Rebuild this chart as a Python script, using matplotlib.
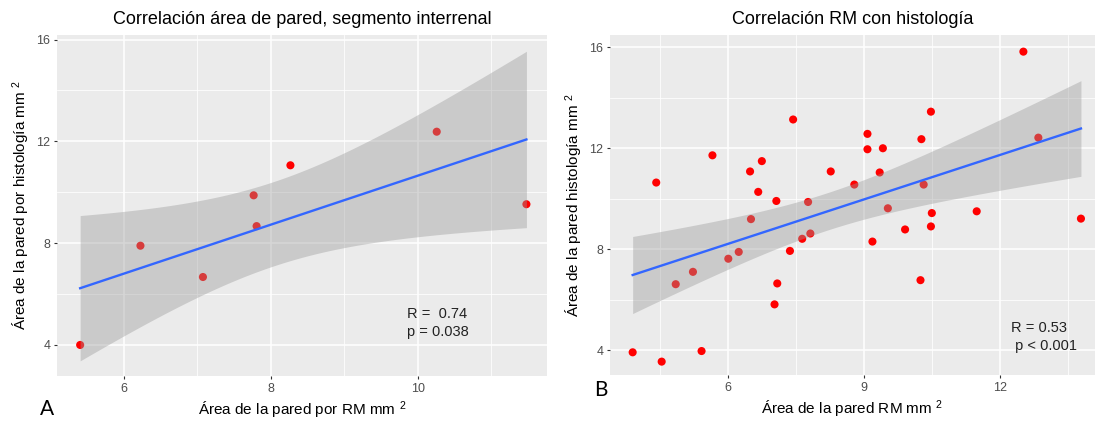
import numpy as np
import matplotlib
matplotlib.use("Agg")
import matplotlib.pyplot as plt
from matplotlib.ticker import FixedLocator

plt.rcParams['font.family'] = ['Liberation Sans', 'DejaVu Sans']
plt.rcParams['mathtext.fontset'] = 'custom'
plt.rcParams['mathtext.rm'] = 'Liberation Sans'
plt.rcParams['mathtext.it'] = 'Liberation Sans'

# panel A: segmento interrenal
rm_a = [5.41, 6.23, 7.08, 7.77, 7.81, 8.27, 10.26, 11.48]
hist_a = [4.0, 7.9, 6.67, 9.88, 8.67, 11.06, 12.38, 9.53]

# panel B: all segments
rm_b = [3.90, 4.42, 4.54, 4.85, 5.23, 5.42, 5.66, 6.01, 6.24, 6.49,
        6.51, 6.67, 6.75, 7.03, 7.07, 7.09, 7.37, 7.44, 7.64, 7.77,
        7.82, 8.27, 8.79, 9.08, 9.08, 9.19, 9.35, 9.42, 9.53, 9.91,
        10.25, 10.27, 10.32, 10.48, 10.48, 10.50, 11.49, 12.52, 12.85, 13.79]
hist_b = [3.91, 10.64, 3.54, 6.61, 7.10, 3.96, 11.72, 7.62, 7.89, 11.08,
          9.19, 10.27, 11.49, 5.81, 9.91, 6.64, 7.93, 13.14, 8.41, 9.87,
          8.62, 11.08, 10.56, 12.57, 11.96, 8.30, 11.04, 12.00, 9.62, 8.78,
          6.77, 12.36, 10.56, 13.45, 8.90, 9.43, 9.50, 15.83, 12.42, 9.21]

titles = ["Correlación área de pared, segmento interrenal", "Correlación RM con histología"]
xlabels = [r"Área de la pared por RM mm $^2$", r"Área de la pared RM mm $^2$"]
ylabels = [r"Área de la pared por histología mm $^2$", r"Área de la pared histología mm $^2$"]
stats = ["R =  0.74\np = 0.038", "R = 0.53\n p < 0.001"]
t975 = [2.4469, 2.0244]  # t quantiles for df = 6 and df = 38


def lm_band(x, y, t):
    x = np.asarray(x)
    y = np.asarray(y)
    n = len(x)
    b1, b0 = np.polyfit(x, y, 1)
    resid = y - (b0 + b1 * x)
    s = np.sqrt(np.sum(resid ** 2) / (n - 2))
    xs = np.linspace(x.min(), x.max(), 80)
    fit = b0 + b1 * xs
    se = s * np.sqrt(1 / n + (xs - x.mean()) ** 2 / np.sum((x - x.mean()) ** 2))
    return xs, fit, fit - t * se, fit + t * se


def style(ax, xmaj, xmin, ymaj, ymin):
    ax.set_facecolor('#EBEBEB')
    ax.set_xticks(xmaj)
    ax.set_yticks(ymaj)
    ax.xaxis.set_minor_locator(FixedLocator(xmin))
    ax.yaxis.set_minor_locator(FixedLocator(ymin))
    ax.grid(which='major', color='white', lw=1.1)
    ax.grid(which='minor', color='white', lw=0.55)
    ax.set_axisbelow(True)
    for sp in ax.spines.values():
        sp.set_visible(False)
    ax.tick_params(which='major', length=2.2, width=0.8, color='#333333',
                   labelcolor='#4D4D4D', labelsize=9, pad=2.5)
    ax.tick_params(which='minor', length=0)


fig = plt.figure(figsize=(10.95, 4.25), dpi=100)
ax1 = fig.add_axes([57 / 1095, 49 / 425, 490 / 1095, 341 / 425])
ax2 = fig.add_axes([610 / 1095, 50 / 425, 485 / 1095, 340 / 425])

data = [(rm_a, hist_a), (rm_b, hist_b)]
for i, ax in enumerate([ax1, ax2]):
    x, y = data[i]
    ax.scatter(x, y, s=34, color='#FF0000', edgecolors='none', zorder=2)
    xs, fit, lo, hi = lm_band(x, y, t975[i])
    ax.fill_between(xs, lo, hi, color='#999999', alpha=0.4, lw=0, zorder=3)
    ax.plot(xs, fit, color='#3366FF', lw=1.7, zorder=4)
    ax.set_title(titles[i], fontsize=13, pad=8)
    ax.set_xlabel(xlabels[i], fontsize=11, labelpad=4)
    ax.set_ylabel(ylabels[i], fontsize=11, labelpad=3)

style(ax1, [6, 8, 10], [5, 7, 9, 11], [4, 8, 12, 16], [6, 10, 14])
ax1.set_xlim(5.095, 11.76)
ax1.set_ylim(2.78, 16.18)
ax1.text(9.85, 4.86, stats[0], fontsize=10.5, color='#222222', ha='left', va='center',
         multialignment='left', linespacing=1.3)

style(ax2, [6, 9, 12], [4.5, 7.5, 10.5, 13.5], [4, 8, 12, 16], [6, 10, 14])
ax2.set_xlim(3.40, 14.10)
ax2.set_ylim(3.01, 16.49)
ax2.text(12.25, 4.52, stats[1], fontsize=10.5, color='#222222', ha='left', va='center',
         multialignment='left', linespacing=1.3)

fig.text(47 / 1095, 1 - 409 / 425, "A", fontsize=15, family=['Lato', 'DejaVu Sans'],
         ha='center', va='center')
fig.text(601 / 1095, 1 - 390 / 425, "B", fontsize=15, family=['Lato', 'DejaVu Sans'],
         ha='center', va='center')

fig.savefig("out.png", dpi=100)
